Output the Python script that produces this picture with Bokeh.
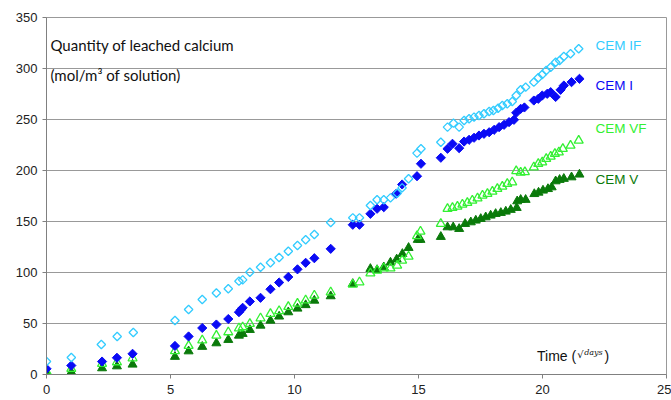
import math
from bokeh.plotting import figure
from bokeh.models import Label, FixedTicker
from bokeh.embed import file_html
from bokeh.resources import INLINE

# ---- data (x = sqrt(days), y = mol/m3 of solution) ----
cem_if_x = [0.0, 1.0, 2.21, 2.85, 3.50, 5.18, 5.73, 6.28, 6.85, 7.33, 7.76, 7.91, 8.20, 8.63, 9.03,
            9.38, 9.75, 10.12, 10.45, 10.80, 11.46, 12.35, 12.62, 13.06, 13.33, 13.60, 13.87, 14.14,
            14.34, 14.60, 14.94, 15.10, 15.90, 16.17, 16.41, 16.64, 16.84, 17.04, 17.24, 17.44, 17.64,
            17.85, 18.02, 18.21, 18.38, 18.58, 18.78, 18.94, 19.12, 19.32, 19.65, 19.83, 19.99, 20.15,
            20.33, 20.53, 20.69, 20.86, 21.13, 21.46]
cem_if_y = [12.7, 16.7, 29.4, 37.3, 41.2, 52.9, 63.7, 73.5, 79.9, 84.0, 91.5, 92.8, 100.3, 105.2, 109.5,
            114.7, 120.9, 126.5, 132.1, 137.3, 149.0, 153.6, 153.6, 165.7, 171.3, 171.3, 173.2, 177.7,
            183.0, 191.9, 217.0, 221.3, 227.7, 242.5, 246.4, 242.5, 249.0, 250.7, 252.3, 253.9, 255.6,
            257.8, 258.8, 261.1, 263.7, 265.4, 267.6, 273.5, 279.1, 281.7, 286.6, 290.9, 294.1, 298.0,
            301.3, 306.2, 307.8, 311.8, 314.4, 319.3]

cem_i_x = [0.0, 1.0, 2.24, 2.84, 3.47, 5.18, 5.73, 6.28, 6.85, 7.33, 7.76, 7.84, 7.91, 8.20, 8.63, 9.03,
           9.38, 9.75, 10.12, 10.45, 10.80, 11.46, 12.35, 12.62, 13.06, 13.33, 13.60, 14.10, 14.34,
           14.94, 15.10, 15.90, 16.17, 16.37, 16.64, 16.84, 17.04, 17.24, 17.44, 17.64, 17.85, 18.05,
           18.25, 18.45, 18.65, 18.85, 18.94, 19.12, 19.27, 19.65, 19.83, 19.99, 20.19, 20.33, 20.53,
           20.73, 20.86, 21.17, 21.49]
cem_i_y = [5.6, 8.8, 12.7, 16.4, 20.3, 28.0, 37.3, 45.6, 49.0, 54.4, 61.1, 63.4, 65.4, 71.6, 75.2, 83.6,
           90.2, 95.6, 103.1, 109.5, 114.0, 123.2, 146.8, 146.8, 157.5, 162.5, 164.0, 177.2, 186.3,
           194.4, 206.6, 212.5, 221.3, 226.2, 221.9, 228.4, 230.1, 232.1, 234.3, 236.0, 237.5, 239.9,
           242.5, 244.8, 247.4, 249.7, 256.6, 260.5, 261.8, 268.6, 270.3, 273.5, 275.2, 276.8, 272.1,
           279.1, 283.3, 286.6, 289.9]

cem_vf_x = [0.0, 1.0, 2.24, 2.84, 3.47, 5.18, 5.73, 6.28, 6.85, 7.33, 7.76, 7.91, 8.20, 8.63, 9.03,
            9.38, 9.75, 10.12, 10.45, 10.80, 11.46, 12.35, 12.62, 13.06, 13.33, 13.60, 13.87, 14.14,
            14.34, 14.60, 14.94, 15.08, 15.90, 16.17, 16.37, 16.57, 16.77, 16.97, 17.17, 17.38, 17.58,
            17.78, 17.98, 18.18, 18.38, 18.58, 18.78, 18.94, 19.12, 19.29, 19.65, 19.83, 19.99, 20.15,
            20.33, 20.50, 20.66, 20.82, 21.13, 21.46]
cem_vf_y = [2.9, 5.6, 10.5, 12.1, 16.0, 23.0, 28.1, 33.6, 38.2, 41.5, 45.4, 46.4, 49.7, 55.2, 59.5,
            62.3, 66.4, 69.6, 72.8, 77.5, 80.7, 88.2, 90.5, 99.3, 102.0, 104.2, 104.2, 106.9,
            111.8, 115.7, 135.8, 140.2, 147.7, 162.5, 163.4, 164.7, 166.7, 168.3, 170.6, 172.8, 175.5,
            177.2, 179.4, 182.1, 184.3, 187.0, 188.5, 199.5, 198.0, 198.5, 203.2, 206.6, 208.1, 211.5,
            213.7, 216.4, 217.9, 221.3, 224.5, 229.4]

cem_v_x = [0.0, 1.0, 2.24, 2.84, 3.47, 5.18, 5.73, 6.28, 6.85, 7.33, 7.76, 7.91, 8.20, 8.63, 9.03,
           9.38, 9.75, 10.12, 10.45, 10.80, 11.46, 12.35, 13.06, 13.33, 13.60, 13.87, 14.12, 14.35,
           14.60, 14.97, 15.08, 15.90, 16.17, 16.40, 16.64, 16.88, 17.11, 17.31, 17.51, 17.71, 17.91,
           18.11, 18.32, 18.52, 18.72, 18.96, 18.98, 19.12, 19.32, 19.67, 19.84, 20.02, 20.22, 20.37,
           20.53, 20.69, 20.86, 21.17, 21.49]
cem_v_y = [1.7, 2.3, 6.2, 8.1, 9.8, 17.4, 22.8, 27.2, 30.7, 34.0, 38.2, 39.9, 43.8, 48.0, 52.9,
           56.9, 61.1, 64.7, 68.1, 72.5, 76.8, 88.9, 103.6, 102.5, 105.2, 109.8, 112.9, 118.3,
           124.2, 132.1, 132.1, 135.0, 144.4, 144.4, 142.8, 147.7, 149.3, 151.0, 152.6, 154.2, 155.9,
           157.5, 158.5, 159.8, 161.5, 163.4, 169.9, 171.3, 171.3, 177.0, 178.4, 180.4, 181.9, 183.6,
           189.5, 190.9, 191.9, 193.4, 196.1]

series_names = ["CEM IF", "CEM I", "CEM VF", "CEM V"]
x_ticks = [0, 5, 10, 15, 20, 25]
y_ticks = [0, 50, 100, 150, 200, 250, 300, 350]

C_IF = "#33CCFF"
C_I = "#0A0AF5"
C_VF = "#33F033"
C_V = "#0A7A0A"

p = figure(width=671, height=400, x_range=(0, 25), y_range=(0, 350),
           output_backend="svg", toolbar_location=None,
           min_border_left=46, min_border_right=5, min_border_top=17, min_border_bottom=26)
p.background_fill_color = "white"
p.border_fill_color = "white"
p.outline_line_color = "#999999"

# axes
for ax in (p.xaxis[0], p.yaxis[0]):
    ax.axis_line_color = "#808080"
    ax.major_tick_line_color = "#808080"
    ax.major_tick_out = 4
    ax.major_tick_in = 0
    ax.minor_tick_line_color = None
    ax.major_label_text_font = "Liberation Sans"
    ax.major_label_text_font_size = "13px"
    ax.major_label_text_color = "#222222"
p.xaxis[0].ticker = FixedTicker(ticks=x_ticks)
p.yaxis[0].ticker = FixedTicker(ticks=y_ticks)
p.xaxis[0].major_label_standoff = 6
p.yaxis[0].major_label_standoff = 5

p.xgrid.grid_line_color = None
p.ygrid.ticker = FixedTicker(ticks=y_ticks)
p.ygrid.grid_line_color = "#999999"
p.ygrid.grid_line_width = 1

# series
rot = math.pi / 4
p.scatter(cem_v_x, cem_v_y, marker="triangle", size=9, fill_color=C_V, line_color=C_V)
p.scatter(cem_vf_x, cem_vf_y, marker="triangle", size=9, fill_color=None, line_color=C_VF, line_width=1.3)
p.scatter(cem_i_x, cem_i_y, marker="square", size=6.5, angle=rot, fill_color=C_I, line_color=C_I)
p.scatter(cem_if_x, cem_if_y, marker="square", size=6, angle=rot, fill_color=None, line_color=C_IF,
          line_width=1.3)

# series labels
lab_font = "Liberation Sans"
for name, col, yy in zip(series_names, [C_IF, C_I, C_VF, C_V], [322.5, 283.3, 241.5, 191.2]):
    p.add_layout(Label(x=22.14, y=yy, text=name, text_color=col, text_font=lab_font,
                       text_font_size="13.5px", text_baseline="middle", text_align="left"))

# y title
p.add_layout(Label(x=0.16, y=323.5, text="Quantity of leached calcium", text_color="#111111",
                   text_font="Lato", text_font_size="15px", text_baseline="middle"))
p.add_layout(Label(x=0.16, y=294, text="(mol/m³ of solution)", text_color="#111111",
                   text_font="Lato", text_font_size="15px", text_baseline="middle"))

# x title
p.add_layout(Label(x=19.78, y=18.6, text="Time (", text_color="#111111",
                   text_font=lab_font, text_font_size="14px", text_baseline="middle"))
p.add_layout(Label(x=21.40, y=19.5, text="√", text_color="#111111",
                   text_font="DejaVu Sans", text_font_size="10px", text_baseline="middle"))
p.add_layout(Label(x=21.68, y=21.5, text="days", text_color="#111111",
                   text_font="DejaVu Serif", text_font_style="italic", text_font_size="8px",
                   text_baseline="middle"))
p.add_layout(Label(x=22.50, y=18.6, text=")", text_color="#111111",
                   text_font=lab_font, text_font_size="14px", text_baseline="middle"))

open("out.html", "w").write(file_html(p, INLINE))
